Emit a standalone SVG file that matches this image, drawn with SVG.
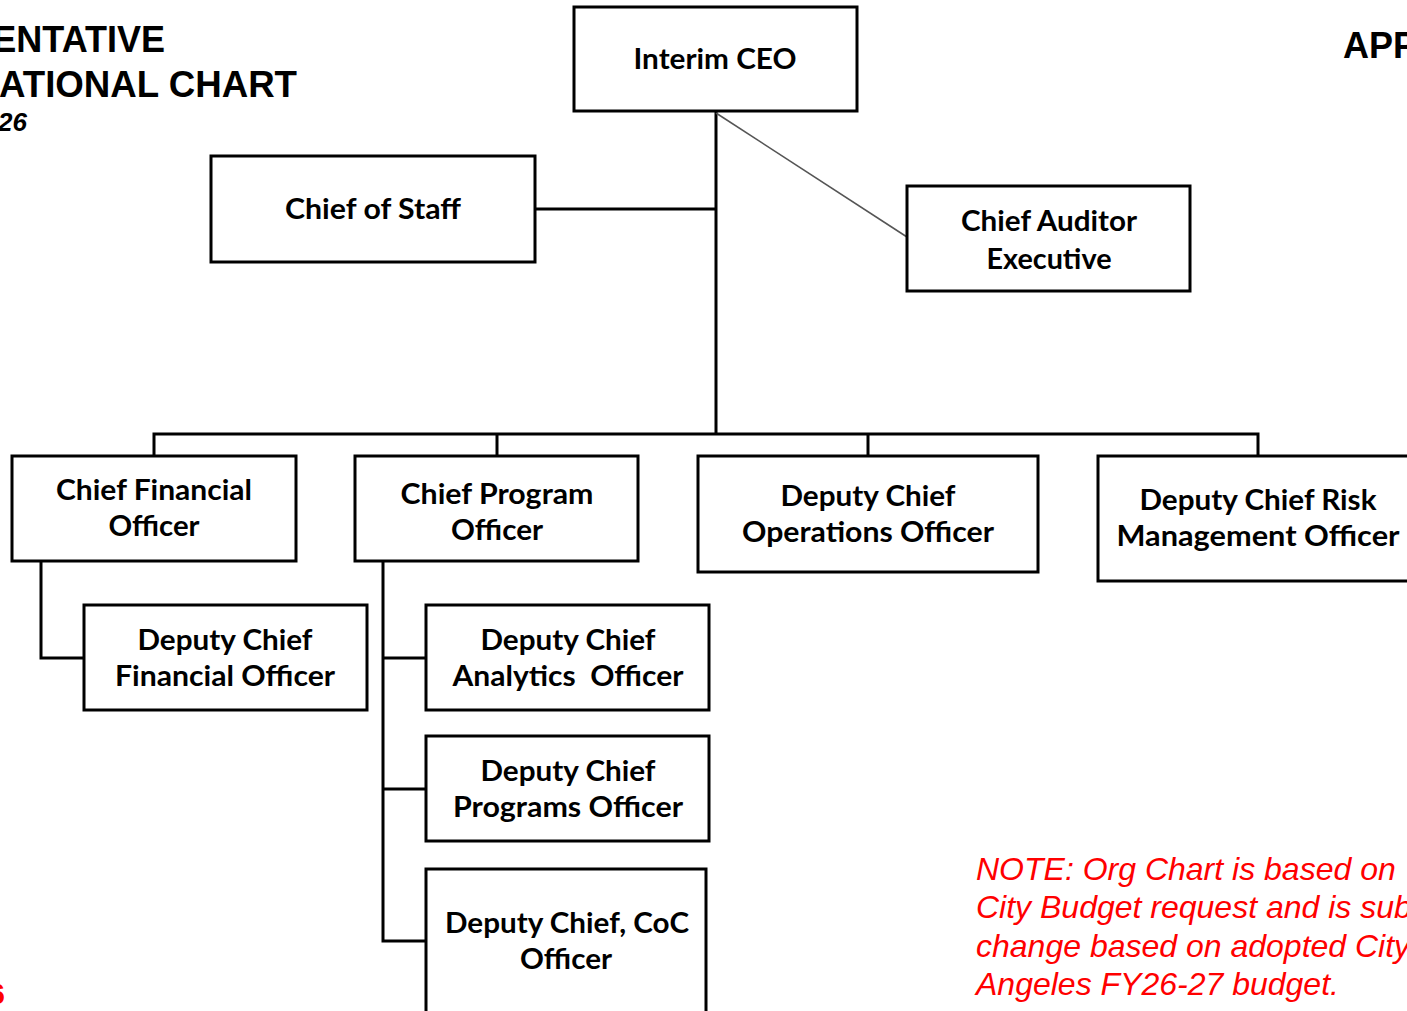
<svg xmlns="http://www.w3.org/2000/svg" width="1407" height="1011" viewBox="0 0 1407 1011">
  <style>
    .box { fill: #ffffff; stroke: #000000; stroke-width: 3; }
    .lbl { font-family: Lato, "Open Sans", "Liberation Sans", sans-serif; font-weight: bold; font-size: 29px; fill: #000000; text-anchor: middle; }
    .wire { fill: none; stroke: #000000; stroke-width: 3; }
    .dotted { fill: none; stroke: #555555; stroke-width: 1.6; }
    .title { font-family: "Liberation Sans", Arial, sans-serif; font-weight: bold; font-size: 36px; fill: #000000; }
    .note { font-family: "Liberation Sans", Arial, sans-serif; font-style: italic; font-size: 32px; fill: #ff0000; }
  </style>
  <rect width="1407" height="1011" fill="#ffffff"/>

  <!-- headings -->
  <g id="heading">
    <text class="title" x="165" y="52" text-anchor="end">ENTATIVE</text>
    <text class="title" x="297" y="97" text-anchor="end" textLength="298" lengthAdjust="spacingAndGlyphs">ATIONAL CHART</text>
    <text class="title" x="27" y="131" text-anchor="end" style="font-style: italic; font-size: 26px;">26</text>
    <text class="title" x="1343" y="58">APP</text>
    <text class="title" x="5" y="1004" text-anchor="end" style="fill: #ff0000; font-size: 30px;">6</text>
  </g>

  <!-- connectors -->
  <g id="connectors">
    <path class="wire" d="M716 111 V434"/>
    <path class="wire" d="M535 209 H716"/>
    <path class="dotted" d="M716 113 L907 237"/>
    <path class="wire" d="M154 456 V434 H1258 V456"/>
    <path class="wire" d="M497 434 V456"/>
    <path class="wire" d="M868 434 V456"/>
    <path class="wire" d="M41 561 V658 H84"/>
    <path class="wire" d="M383 561 V941 H426"/>
    <path class="wire" d="M383 658 H426"/>
    <path class="wire" d="M383 789 H426"/>
  </g>

  <g id="ceo">
    <rect class="box" x="574" y="7" width="283" height="104"/>
    <text class="lbl" x="715" y="69" textLength="163" lengthAdjust="spacingAndGlyphs">Interim CEO</text>
  </g>

  <g id="chief-of-staff">
    <rect class="box" x="211" y="156" width="324" height="106"/>
    <text class="lbl" x="373" y="219" textLength="176" lengthAdjust="spacingAndGlyphs">Chief of Staff</text>
  </g>

  <g id="chief-auditor">
    <rect class="box" x="907" y="186" width="283" height="105"/>
    <text class="lbl" x="1049" y="231" textLength="176" lengthAdjust="spacingAndGlyphs">Chief Auditor</text>
    <text class="lbl" x="1049" y="269" textLength="125" lengthAdjust="spacingAndGlyphs">Executive</text>
  </g>

  <g id="cfo">
    <rect class="box" x="12" y="456" width="284" height="105"/>
    <text class="lbl" x="154" y="500" textLength="196" lengthAdjust="spacingAndGlyphs">Chief Financial</text>
    <text class="lbl" x="154" y="536" textLength="91" lengthAdjust="spacingAndGlyphs">Officer</text>
  </g>

  <g id="cpo">
    <rect class="box" x="355" y="456" width="283" height="105"/>
    <text class="lbl" x="497" y="504" textLength="193" lengthAdjust="spacingAndGlyphs">Chief Program</text>
    <text class="lbl" x="497" y="540" textLength="92" lengthAdjust="spacingAndGlyphs">Officer</text>
  </g>

  <g id="dcoo">
    <rect class="box" x="698" y="456" width="340" height="116"/>
    <text class="lbl" x="868" y="506" textLength="175" lengthAdjust="spacingAndGlyphs">Deputy Chief</text>
    <text class="lbl" x="868" y="542" textLength="252" lengthAdjust="spacingAndGlyphs">Operations Officer</text>
  </g>

  <g id="dcrmo">
    <rect class="box" x="1098" y="456" width="320" height="125"/>
    <text class="lbl" x="1258" y="510" textLength="237" lengthAdjust="spacingAndGlyphs">Deputy Chief Risk</text>
    <text class="lbl" x="1258" y="546" textLength="283" lengthAdjust="spacingAndGlyphs">Management Officer</text>
  </g>

  <g id="dcfo">
    <rect class="box" x="84" y="605" width="283" height="105"/>
    <text class="lbl" x="225" y="650" textLength="175" lengthAdjust="spacingAndGlyphs">Deputy Chief</text>
    <text class="lbl" x="225" y="686" textLength="220" lengthAdjust="spacingAndGlyphs">Financial Officer</text>
  </g>

  <g id="dc-analytics">
    <rect class="box" x="426" y="605" width="283" height="105"/>
    <text class="lbl" x="568" y="650" textLength="175" lengthAdjust="spacingAndGlyphs">Deputy Chief</text>
    <text class="lbl" x="568" y="686" textLength="231" lengthAdjust="spacingAndGlyphs" xml:space="preserve">Analytics  Officer</text>
  </g>

  <g id="dc-programs">
    <rect class="box" x="426" y="736" width="283" height="105"/>
    <text class="lbl" x="568" y="781" textLength="175" lengthAdjust="spacingAndGlyphs">Deputy Chief</text>
    <text class="lbl" x="568" y="817" textLength="230" lengthAdjust="spacingAndGlyphs">Programs Officer</text>
  </g>

  <g id="dc-coc">
    <rect class="box" x="426" y="869" width="280" height="160"/>
    <text class="lbl" x="567" y="933" textLength="244" lengthAdjust="spacingAndGlyphs">Deputy Chief, CoC</text>
    <text class="lbl" x="566" y="969" textLength="92" lengthAdjust="spacingAndGlyphs">Officer</text>
  </g>

  <!-- budget note -->
  <g id="note">
    <text class="note" x="976" y="880">NOTE: Org Chart is based on</text>
    <text class="note" x="976" y="918">City Budget request and is sub</text>
    <text class="note" x="976" y="957">change based on adopted City</text>
    <text class="note" x="976" y="995">Angeles FY26-27 budget.</text>
  </g>
</svg>
